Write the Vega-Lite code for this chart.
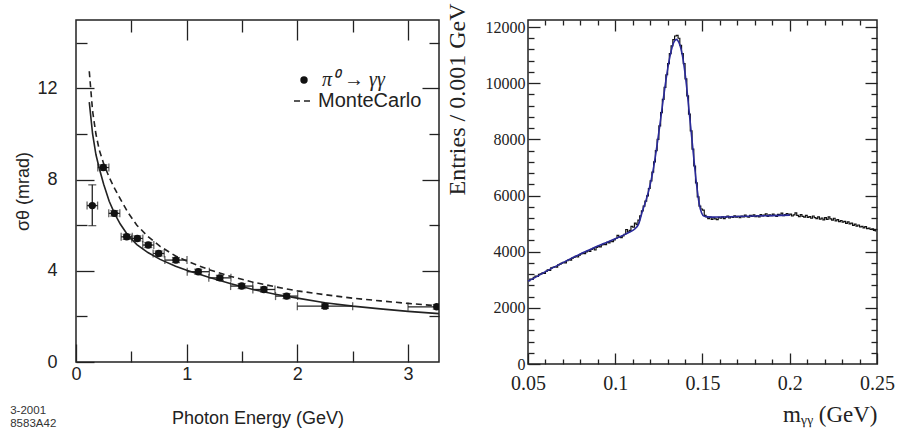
{
"$schema": "https://vega.github.io/schema/vega-lite/v6.json",
"background": "white",
"padding": {"left": 10, "top": 2, "right": 0, "bottom": 0},
"bounds": "flush",
"spacing": 89,
"title": {"text": ["3-2001", "8583A42"], "orient": "bottom", "anchor": "start", "frame": "bounds", "font": "Liberation Sans", "fontSize": 11.5, "fontWeight": "normal", "color": "#333", "lineHeight": 13, "offset": -23, "dx": -4},
"datasets": {
"mc": [
{"E":0.12,"s":12.75},{"E":0.15,"s":11.0},{"E":0.18,"s":10.0},{"E":0.21,"s":9.3},{"E":0.25,"s":8.7},{"E":0.3,"s":8.1},{"E":0.35,"s":7.6},{"E":0.4,"s":7.15},{"E":0.47,"s":6.55},{"E":0.55,"s":6.0},{"E":0.65,"s":5.5},{"E":0.76,"s":5.07},{"E":0.9,"s":4.65},{"E":1.0,"s":4.43},{"E":1.2,"s":4.05},{"E":1.4,"s":3.75},{"E":1.6,"s":3.5},{"E":1.8,"s":3.3},{"E":2.0,"s":3.12},{"E":2.25,"s":2.95},{"E":2.5,"s":2.8},{"E":2.75,"s":2.68},{"E":3.0,"s":2.57},{"E":3.28,"s":2.46}
],
"fitL": [
{"E":0.12,"s":11.4},{"E":0.15,"s":10.0},{"E":0.18,"s":9.1},{"E":0.21,"s":8.5},{"E":0.25,"s":7.8},{"E":0.3,"s":7.05},{"E":0.35,"s":6.5},{"E":0.4,"s":6.05},{"E":0.47,"s":5.55},{"E":0.55,"s":5.15},{"E":0.65,"s":4.8},{"E":0.76,"s":4.5},{"E":0.9,"s":4.2},{"E":1.0,"s":4.02},{"E":1.2,"s":3.72},{"E":1.4,"s":3.43},{"E":1.6,"s":3.18},{"E":1.8,"s":2.97},{"E":2.0,"s":2.8},{"E":2.25,"s":2.6},{"E":2.5,"s":2.45},{"E":2.75,"s":2.33},{"E":3.0,"s":2.22},{"E":3.28,"s":2.12}
],
"pts": [
{"E":0.147,"s":6.86,"xlo":0.1,"xhi":0.195,"ylo":5.98,"yhi":7.77},
{"E":0.247,"s":8.53,"xlo":0.197,"xhi":0.297,"ylo":8.41,"yhi":8.65},
{"E":0.346,"s":6.52,"xlo":0.296,"xhi":0.396,"ylo":6.4,"yhi":6.64},
{"E":0.458,"s":5.49,"xlo":0.408,"xhi":0.508,"ylo":5.38,"yhi":5.6},
{"E":0.554,"s":5.42,"xlo":0.504,"xhi":0.604,"ylo":5.31,"yhi":5.53},
{"E":0.653,"s":5.13,"xlo":0.603,"xhi":0.703,"ylo":5.02,"yhi":5.24},
{"E":0.747,"s":4.76,"xlo":0.697,"xhi":0.797,"ylo":4.65,"yhi":4.87},
{"E":0.903,"s":4.47,"xlo":0.803,"xhi":1.003,"ylo":4.36,"yhi":4.58},
{"E":1.105,"s":3.96,"xlo":1.005,"xhi":1.205,"ylo":3.85,"yhi":4.07},
{"E":1.3,"s":3.69,"xlo":1.2,"xhi":1.4,"ylo":3.58,"yhi":3.8},
{"E":1.497,"s":3.33,"xlo":1.397,"xhi":1.597,"ylo":3.22,"yhi":3.44},
{"E":1.698,"s":3.18,"xlo":1.598,"xhi":1.798,"ylo":3.07,"yhi":3.29},
{"E":1.903,"s":2.89,"xlo":1.803,"xhi":2.003,"ylo":2.78,"yhi":3.0},
{"E":2.25,"s":2.45,"xlo":2.0,"xhi":2.5,"ylo":2.35,"yhi":2.55},
{"E":3.26,"s":2.42,"xlo":3.0,"xhi":3.5,"ylo":2.32,"yhi":2.52}
],
"hist": [
{"m":0.0505,"n":2960},{"m":0.0515,"n":3020},{"m":0.0525,"n":3010},{"m":0.0535,"n":3090},{"m":0.0545,"n":3130},{"m":0.0555,"n":3120},{"m":0.0565,"n":3190},{"m":0.0575,"n":3210},{"m":0.0585,"n":3250},{"m":0.0595,"n":3230},
{"m":0.0605,"n":3300},{"m":0.0615,"n":3350},{"m":0.0625,"n":3330},{"m":0.0635,"n":3420},{"m":0.0645,"n":3440},{"m":0.0655,"n":3470},{"m":0.0665,"n":3450},{"m":0.0675,"n":3530},{"m":0.0685,"n":3560},{"m":0.0695,"n":3590},
{"m":0.0705,"n":3620},{"m":0.0715,"n":3600},{"m":0.0725,"n":3680},{"m":0.0735,"n":3720},{"m":0.0745,"n":3700},{"m":0.0755,"n":3770},{"m":0.0765,"n":3800},{"m":0.0775,"n":3830},{"m":0.0785,"n":3810},{"m":0.0795,"n":3880},
{"m":0.0805,"n":3920},{"m":0.0815,"n":3950},{"m":0.0825,"n":3930},{"m":0.0835,"n":3990},{"m":0.0845,"n":4040},{"m":0.0855,"n":4010},{"m":0.0865,"n":4080},{"m":0.0875,"n":4120},{"m":0.0885,"n":4060},{"m":0.0895,"n":4150},
{"m":0.0905,"n":4190},{"m":0.0915,"n":4170},{"m":0.0925,"n":4240},{"m":0.0935,"n":4270},{"m":0.0945,"n":4250},{"m":0.0955,"n":4330},{"m":0.0965,"n":4310},{"m":0.0975,"n":4380},{"m":0.0985,"n":4360},{"m":0.0995,"n":4420},
{"m":0.1005,"n":4470},{"m":0.1015,"n":4580},{"m":0.1025,"n":4520},{"m":0.1035,"n":4500},{"m":0.1045,"n":4560},{"m":0.1055,"n":4620},{"m":0.1065,"n":4790},{"m":0.1075,"n":4700},{"m":0.1085,"n":4760},{"m":0.1095,"n":4900},
{"m":0.1105,"n":4870},{"m":0.1115,"n":5020},{"m":0.1125,"n":4960},{"m":0.1135,"n":5120},{"m":0.1145,"n":5280},{"m":0.1155,"n":5450},{"m":0.1165,"n":5620},{"m":0.1175,"n":5800},{"m":0.1185,"n":5990},{"m":0.1195,"n":6250},
{"m":0.1205,"n":6520},{"m":0.1215,"n":6830},{"m":0.1225,"n":7200},{"m":0.1235,"n":7600},{"m":0.1245,"n":8000},{"m":0.1255,"n":8480},{"m":0.1265,"n":8950},{"m":0.1275,"n":9420},{"m":0.1285,"n":9850},{"m":0.1295,"n":10300},
{"m":0.1305,"n":10700},{"m":0.1315,"n":11050},{"m":0.1325,"n":11330},{"m":0.1335,"n":11550},{"m":0.1345,"n":11680},{"m":0.1355,"n":11700},{"m":0.1365,"n":11600},{"m":0.1375,"n":11350},{"m":0.1385,"n":11050},{"m":0.1395,"n":10700},
{"m":0.1405,"n":10150},{"m":0.1415,"n":9550},{"m":0.1425,"n":8900},{"m":0.1435,"n":8300},{"m":0.1445,"n":7650},{"m":0.1455,"n":7050},{"m":0.1465,"n":6450},{"m":0.1475,"n":5950},{"m":0.1485,"n":5620},{"m":0.1495,"n":5520},
{"m":0.1505,"n":5480},{"m":0.1515,"n":5290},{"m":0.1525,"n":5240},{"m":0.1535,"n":5180},{"m":0.1545,"n":5230},{"m":0.1555,"n":5150},{"m":0.1565,"n":5210},{"m":0.1575,"n":5170},{"m":0.1585,"n":5140},{"m":0.1595,"n":5220},
{"m":0.1605,"n":5190},{"m":0.1615,"n":5240},{"m":0.1625,"n":5180},{"m":0.1635,"n":5230},{"m":0.1645,"n":5270},{"m":0.1655,"n":5200},{"m":0.1665,"n":5250},{"m":0.1675,"n":5220},{"m":0.1685,"n":5280},{"m":0.1695,"n":5230},
{"m":0.1705,"n":5260},{"m":0.1715,"n":5210},{"m":0.1725,"n":5270},{"m":0.1735,"n":5240},{"m":0.1745,"n":5300},{"m":0.1755,"n":5250},{"m":0.1765,"n":5230},{"m":0.1775,"n":5290},{"m":0.1785,"n":5260},{"m":0.1795,"n":5310},
{"m":0.1805,"n":5250},{"m":0.1815,"n":5280},{"m":0.1825,"n":5240},{"m":0.1835,"n":5320},{"m":0.1845,"n":5270},{"m":0.1855,"n":5300},{"m":0.1865,"n":5350},{"m":0.1875,"n":5260},{"m":0.1885,"n":5310},{"m":0.1895,"n":5280},
{"m":0.1905,"n":5340},{"m":0.1915,"n":5290},{"m":0.1925,"n":5260},{"m":0.1935,"n":5330},{"m":0.1945,"n":5300},{"m":0.1955,"n":5370},{"m":0.1965,"n":5280},{"m":0.1975,"n":5320},{"m":0.1985,"n":5360},{"m":0.1995,"n":5300},
{"m":0.2005,"n":5340},{"m":0.2015,"n":5270},{"m":0.2025,"n":5310},{"m":0.2035,"n":5380},{"m":0.2045,"n":5290},{"m":0.2055,"n":5250},{"m":0.2065,"n":5320},{"m":0.2075,"n":5260},{"m":0.2085,"n":5230},{"m":0.2095,"n":5290},
{"m":0.2105,"n":5220},{"m":0.2115,"n":5250},{"m":0.2125,"n":5190},{"m":0.2135,"n":5270},{"m":0.2145,"n":5210},{"m":0.2155,"n":5180},{"m":0.2165,"n":5240},{"m":0.2175,"n":5160},{"m":0.2185,"n":5200},{"m":0.2195,"n":5130},
{"m":0.2205,"n":5210},{"m":0.2215,"n":5150},{"m":0.2225,"n":5240},{"m":0.2235,"n":5170},{"m":0.2245,"n":5120},{"m":0.2255,"n":5190},{"m":0.2265,"n":5100},{"m":0.2275,"n":5140},{"m":0.2285,"n":5070},{"m":0.2295,"n":5110},
{"m":0.2305,"n":5050},{"m":0.2315,"n":5080},{"m":0.2325,"n":5010},{"m":0.2335,"n":5060},{"m":0.2345,"n":4990},{"m":0.2355,"n":5020},{"m":0.2365,"n":4940},{"m":0.2375,"n":4980},{"m":0.2385,"n":4910},{"m":0.2395,"n":4950},
{"m":0.2405,"n":4880},{"m":0.2415,"n":4900},{"m":0.2425,"n":4850},{"m":0.2435,"n":4890},{"m":0.2445,"n":4820},{"m":0.2455,"n":4840},{"m":0.2465,"n":4790},{"m":0.2475,"n":4810},{"m":0.2485,"n":4760},{"m":0.2495,"n":4740}
],
"fitR": [
{"m":0.05,"f":2950},{"m":0.055,"f":3110},{"m":0.06,"f":3290},{"m":0.065,"f":3450},{"m":0.07,"f":3610},{"m":0.075,"f":3770},{"m":0.08,"f":3920},{"m":0.085,"f":4060},{"m":0.09,"f":4200},{"m":0.095,"f":4330},{"m":0.1,"f":4460},{"m":0.104,"f":4570},{"m":0.108,"f":4690},{"m":0.111,"f":4800},{"m":0.1135,"f":5000},{"m":0.1155,"f":5430},{"m":0.1175,"f":5800},{"m":0.1195,"f":6250},{"m":0.1215,"f":6830},{"m":0.1235,"f":7600},{"m":0.1255,"f":8480},{"m":0.1275,"f":9420},{"m":0.1295,"f":10300},{"m":0.1315,"f":11000},{"m":0.1335,"f":11450},{"m":0.135,"f":11560},{"m":0.1365,"f":11450},{"m":0.1385,"f":10980},{"m":0.1405,"f":10100},{"m":0.1425,"f":8900},{"m":0.1445,"f":7650},{"m":0.1465,"f":6450},{"m":0.148,"f":5750},{"m":0.1495,"f":5380},{"m":0.151,"f":5260},{"m":0.155,"f":5230},{"m":0.16,"f":5235},{"m":0.17,"f":5250},{"m":0.18,"f":5270},{"m":0.19,"f":5285},{"m":0.2,"f":5300}
]
},
"hconcat": [
{
"width": 363, "height": 342,
"layer": [
{"data": {"name": "mc"}, "mark": {"type": "line", "color": "#222", "strokeWidth": 1.6, "clip": true},
 "encoding": {
  "x": {"field": "E", "type": "quantitative", "scale": {"domain": [0, 3.28], "nice": false, "zero": false},
        "axis": {"orient": "bottom", "values": [0, 1, 2, 3], "tickSize": -18, "labelPadding": 21, "format": "d", "labelFont": "Liberation Sans", "labelFontSize": 18, "title": "Photon Energy (GeV)", "titleFont": "Liberation Sans", "titleFontSize": 18, "titlePadding": 26}},
  "y": {"field": "s", "type": "quantitative", "scale": {"domain": [0, 15], "nice": false},
        "axis": {"orient": "left", "values": [0, 4, 8, 12], "tickSize": -18, "labelPadding": 37, "format": "d", "labelFont": "Liberation Sans", "labelFontSize": 18, "title": "σθ (mrad)", "titleFont": "Liberation Sans", "titleFontSize": 18, "titlePadding": 4}},
  "strokeDash": {"datum": "MonteCarlo", "type": "nominal", "scale": {"range": [[6, 4]]},
        "legend": {"orient": "none", "legendX": 217, "legendY": 70, "title": null, "padding": 0, "symbolType": "stroke", "symbolSize": 400, "symbolStrokeWidth": 1.6, "symbolStrokeColor": "#222", "labelFont": "Liberation Sans", "labelFontSize": 20, "labelColor": "#222", "labelOffset": 3}}
 }},
{"data": {"name": "fitL"}, "mark": {"type": "line", "color": "#222", "strokeWidth": 1.6, "clip": true},
 "encoding": {
  "x": {"field": "E", "type": "quantitative", "scale": {"domain": [0, 3.28], "nice": false, "zero": false},
        "axis": {"orient": "bottom", "values": [0.5, 1.5, 2.5], "tickSize": -11, "labels": false, "title": null}},
  "y": {"field": "s", "type": "quantitative", "scale": {"domain": [0, 15], "nice": false},
        "axis": {"orient": "left", "values": [2, 6, 10, 14], "tickSize": -11, "labels": false, "title": null}}
 }},
{"data": {"name": "pts"}, "mark": {"type": "rule", "color": "#222", "strokeWidth": 1.3, "clip": true},
 "encoding": {
  "x": {"field": "xlo", "type": "quantitative", "scale": {"domain": [0, 3.28], "nice": false, "zero": false},
        "axis": {"orient": "top", "values": [1, 2, 3], "tickSize": -20, "labels": false, "title": null}},
  "x2": {"field": "xhi"},
  "y": {"field": "s", "type": "quantitative", "scale": {"domain": [0, 15], "nice": false},
        "axis": {"orient": "right", "values": [4, 8, 12], "tickSize": -17, "labels": false, "title": null}}
 }},
{"data": {"name": "pts"}, "mark": {"type": "tick", "orient": "vertical", "color": "#222", "thickness": 1.3, "size": 8, "clip": true},
 "encoding": {
  "x": {"field": "xlo", "type": "quantitative", "scale": {"domain": [0, 3.28], "nice": false, "zero": false},
        "axis": {"orient": "top", "values": [0.5, 1.5, 2.5], "tickSize": -12, "labels": false, "title": null}},
  "y": {"field": "s", "type": "quantitative", "scale": {"domain": [0, 15], "nice": false},
        "axis": {"orient": "right", "values": [2, 6, 10, 14], "tickSize": -10, "labels": false, "title": null}}
 }},
{"data": {"name": "pts"}, "mark": {"type": "tick", "orient": "vertical", "color": "#222", "thickness": 1.3, "size": 8, "clip": true},
 "encoding": {
  "x": {"field": "xhi", "type": "quantitative", "scale": {"domain": [0, 3.28], "nice": false, "zero": false}, "axis": null},
  "y": {"field": "s", "type": "quantitative", "scale": {"domain": [0, 15], "nice": false}, "axis": null}
 }},
{"data": {"name": "pts"}, "mark": {"type": "rule", "color": "#222", "strokeWidth": 1.3, "clip": true},
 "encoding": {
  "x": {"field": "E", "type": "quantitative", "scale": {"domain": [0, 3.28], "nice": false, "zero": false}, "axis": null},
  "y": {"field": "ylo", "type": "quantitative", "scale": {"domain": [0, 15], "nice": false}, "axis": null},
  "y2": {"field": "yhi"}
 }},
{"data": {"name": "pts"}, "mark": {"type": "tick", "orient": "horizontal", "color": "#222", "thickness": 1.3, "size": 8, "clip": true},
 "encoding": {
  "x": {"field": "E", "type": "quantitative", "scale": {"domain": [0, 3.28], "nice": false, "zero": false}, "axis": null},
  "y": {"field": "ylo", "type": "quantitative", "scale": {"domain": [0, 15], "nice": false}, "axis": null}
 }},
{"data": {"name": "pts"}, "mark": {"type": "tick", "orient": "horizontal", "color": "#222", "thickness": 1.3, "size": 8, "clip": true},
 "encoding": {
  "x": {"field": "E", "type": "quantitative", "scale": {"domain": [0, 3.28], "nice": false, "zero": false}, "axis": null},
  "y": {"field": "yhi", "type": "quantitative", "scale": {"domain": [0, 15], "nice": false}, "axis": null}
 }},
{"data": {"name": "pts"}, "mark": {"type": "point", "filled": true, "color": "#111", "opacity": 1, "size": 55, "clip": true},
 "encoding": {
  "x": {"field": "E", "type": "quantitative", "scale": {"domain": [0, 3.28], "nice": false, "zero": false}, "axis": null},
  "y": {"field": "s", "type": "quantitative", "scale": {"domain": [0, 15], "nice": false}, "axis": null},
  "shape": {"datum": "π⁰ → γγ", "type": "nominal", "scale": {"range": ["circle"]},
        "legend": {"orient": "none", "legendX": 218, "legendY": 50, "title": null, "padding": 0, "symbolSize": 55, "symbolFillColor": "#111", "symbolStrokeColor": "#111", "labelFont": "Liberation Serif", "labelFontStyle": "italic", "labelFontSize": 20, "labelColor": "#222", "labelOffset": 8}}
 }}
],
"resolve": {"axis": {"x": "independent", "y": "independent"}}
},
{
"width": 349, "height": 344,
"layer": [
{"data": {"name": "hist"}, "mark": {"type": "line", "interpolate": "step", "color": "#111", "strokeWidth": 1.2},
 "encoding": {
  "x": {"field": "m", "type": "quantitative", "scale": {"domain": [0.05, 0.25], "nice": false, "zero": false},
        "axis": {"orient": "bottom", "values": [0.05, 0.1, 0.15, 0.2, 0.25], "format": "~g", "tickSize": -11, "labelPadding": 20, "labelFont": "Liberation Serif", "labelFontSize": 20, "title": "mᵧᵧ (GeV)", "titleFont": "Liberation Serif", "titleFontSize": 23, "titleAnchor": "end", "titlePadding": 10}},
  "y": {"field": "n", "type": "quantitative", "scale": {"domain": [0, 12250], "nice": false},
        "axis": {"orient": "left", "values": [0, 2000, 4000, 6000, 8000, 10000, 12000], "format": "d", "tickSize": -12, "labelPadding": 15, "labelFont": "Liberation Serif", "labelFontSize": 16, "title": "Entries / 0.001 GeV", "titleFont": "Liberation Serif", "titleFontSize": 24, "titleAnchor": "end", "titleAlign": "right", "titleY": -17, "titlePadding": 16}}
 }},
{"data": {"name": "fitR"}, "mark": {"type": "line", "interpolate": "monotone", "color": "#2a2a9a", "strokeWidth": 1.6},
 "encoding": {
  "x": {"field": "m", "type": "quantitative", "scale": {"domain": [0.05, 0.25], "nice": false, "zero": false},
        "axis": {"orient": "bottom", "values": [0.06, 0.07, 0.08, 0.09, 0.11, 0.12, 0.13, 0.14, 0.16, 0.17, 0.18, 0.19, 0.21, 0.22, 0.23, 0.24], "tickSize": -5, "labels": false, "title": null}},
  "y": {"field": "f", "type": "quantitative", "scale": {"domain": [0, 12250], "nice": false},
        "axis": {"orient": "left", "values": [400, 800, 1200, 1600, 2400, 2800, 3200, 3600, 4400, 4800, 5200, 5600, 6400, 6800, 7200, 7600, 8400, 8800, 9200, 9600, 10400, 10800, 11200, 11600], "tickSize": -6, "labels": false, "title": null}}
 }},
{"data": {"name": "fitR"}, "mark": {"type": "line", "opacity": 0},
 "encoding": {
  "x": {"field": "m", "type": "quantitative", "scale": {"domain": [0.05, 0.25], "nice": false, "zero": false},
        "axis": {"orient": "top", "values": [0.1, 0.15, 0.2], "tickSize": -11, "labels": false, "title": null}},
  "y": {"field": "f", "type": "quantitative", "scale": {"domain": [0, 12250], "nice": false},
        "axis": {"orient": "right", "values": [2000, 4000, 6000, 8000, 10000, 12000], "tickSize": -12, "labels": false, "title": null}}
 }},
{"data": {"name": "fitR"}, "mark": {"type": "line", "opacity": 0},
 "encoding": {
  "x": {"field": "m", "type": "quantitative", "scale": {"domain": [0.05, 0.25], "nice": false, "zero": false},
        "axis": {"orient": "top", "values": [0.06, 0.07, 0.08, 0.09, 0.11, 0.12, 0.13, 0.14, 0.16, 0.17, 0.18, 0.19, 0.21, 0.22, 0.23, 0.24], "tickSize": -5, "labels": false, "title": null}},
  "y": {"field": "f", "type": "quantitative", "scale": {"domain": [0, 12250], "nice": false},
        "axis": {"orient": "right", "values": [400, 800, 1200, 1600, 2400, 2800, 3200, 3600, 4400, 4800, 5200, 5600, 6400, 6800, 7200, 7600, 8400, 8800, 9200, 9600, 10400, 10800, 11200, 11600], "tickSize": -6, "labels": false, "title": null}}
 }}
],
"resolve": {"axis": {"x": "independent", "y": "independent"}}
}
],
"config": {
 "view": {"stroke": "#222", "strokeWidth": 1.5},
 "axis": {"domain": false, "grid": false, "tickColor": "#222", "tickWidth": 1.3, "labelColor": "#222", "titleColor": "#222", "titleFontWeight": "normal", "labelFlush": false, "labelOverlap": false}
}
}
